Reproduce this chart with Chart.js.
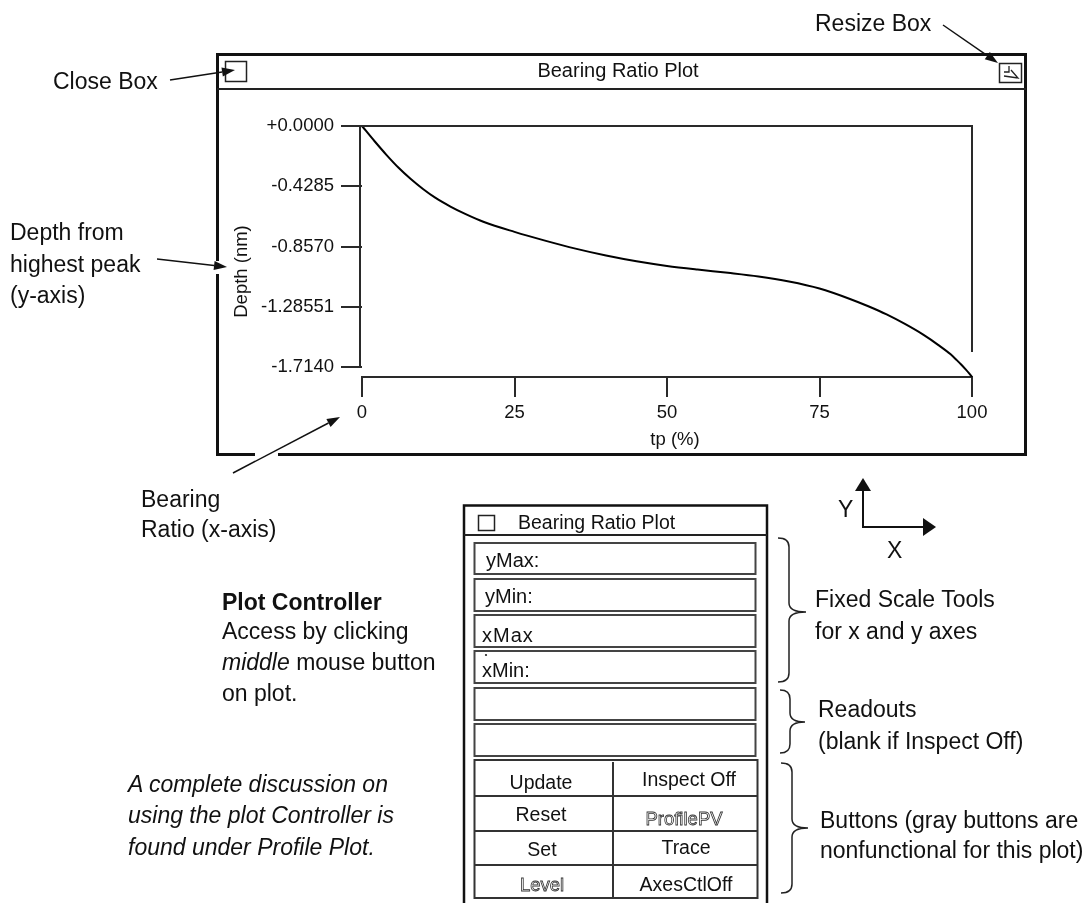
<!DOCTYPE html>
<html><head><meta charset="utf-8">
<script src="https://cdn.jsdelivr.net/npm/chart.js@4.4.1/dist/chart.umd.min.js"></script>
<style>
html,body{margin:0;padding:0;background:#fff;}
#wrap{position:relative;width:1091px;height:903px;overflow:hidden;background:#fff;}
#c{position:absolute;left:0;top:0;}
#ov{position:absolute;left:0;top:0;}
#ov text{font-family:"Liberation Sans",Arial,sans-serif;fill:#111;}
</style></head><body>
<div id="wrap">
<canvas id="c" width="1091" height="903"></canvas>
<svg id="ov" width="1091" height="903" xmlns="http://www.w3.org/2000/svg"></svg>
</div>
<script>
// ---- data ----
const tpPercent = [0, 2, 4, 6, 8, 10, 12, 14.5, 17, 20, 25, 30, 35, 40, 45, 50, 55, 60, 65, 70, 75, 80, 83, 86, 89, 92, 94.5, 96.5, 97.5, 98.3, 99, 99.5, 100];
const depthNm   = [0, -0.105, -0.205, -0.297, -0.377, -0.448, -0.51, -0.573, -0.627, -0.683, -0.753, -0.815, -0.872, -0.921, -0.962, -0.995, -1.021, -1.044, -1.07, -1.106, -1.156, -1.23, -1.282, -1.34, -1.408, -1.484, -1.558, -1.624, -1.665, -1.7, -1.733, -1.758, -1.785];
const xTickValues = [0, 25, 50, 75, 100];
const yTickValues = [0, -0.4285, -0.857, -1.28551, -1.714];
const yTickLabels = ['+0.0000', '-0.4285', '-0.8570', '-1.28551', '-1.7140'];
const yAxisMin = -1.7851, yAxisMax = 0;
const rightFrameEnd = -1.607;
const yTitleShift = 20, xTitleShift = 8;
const FONT = '"Liberation Sans", Arial, sans-serif';

const framePlugin = {
  id: 'frame',
  afterLayout(chart) {
    const {ctx} = chart;
    const sy = chart.scales.y, sx = chart.scales.x;
    if (!sy._shifted) {
      const o = sy.drawTitle.bind(sy);
      sy.drawTitle = function () { ctx.save(); ctx.translate(0, yTitleShift); o(); ctx.restore(); };
      sy._shifted = true;
    }
    if (!sx._shifted) {
      const o = sx.drawTitle.bind(sx);
      sx.drawTitle = function () { ctx.save(); ctx.translate(xTitleShift, 0); o(); ctx.restore(); };
      sx._shifted = true;
    }
  },
  afterDraw(chart) {
    const {ctx, scales: {x, y}} = chart;
    const xl = x.getPixelForValue(0) - 2, xr = x.getPixelForValue(100);
    const yTop = y.getPixelForValue(yTickValues[0]);
    const yBot = y.getPixelForValue(yTickValues[yTickValues.length - 1]);
    const yR = y.getPixelForValue(rightFrameEnd);
    ctx.save();
    ctx.strokeStyle = '#2a2a2a';
    ctx.lineWidth = 2;
    ctx.beginPath();
    ctx.moveTo(xl, yBot); ctx.lineTo(xl, yTop); ctx.lineTo(xr, yTop); ctx.lineTo(xr, yR);
    ctx.stroke();
    ctx.restore();
  }
};

new Chart(document.getElementById('c'), {
  type: 'line',
  data: {
    datasets: [{
      data: tpPercent.map((t, i) => ({x: t, y: depthNm[i]})),
      borderColor: '#000', borderWidth: 2, pointRadius: 0,
      cubicInterpolationMode: 'monotone', fill: false, clip: false
    }]
  },
  options: {
    responsive: false, animation: false, devicePixelRatio: 1,
    layout: {padding: {left: 222, right: 119, top: 126, bottom: 446}},
    plugins: {legend: {display: false}, tooltip: {enabled: false}},
    scales: {
      x: {
        type: 'linear', position: 'bottom', min: 0, max: 100,
        afterBuildTicks: s => { s.ticks = xTickValues.map(v => ({value: v})); },
        afterFit: s => { s.height = 80; },
        grid: {display: true, drawOnChartArea: false, drawTicks: true, tickLength: 20, color: '#2a2a2a', lineWidth: 2},
        border: {display: true, color: '#2a2a2a', width: 2},
        ticks: {font: {family: FONT, size: 18.5}, color: '#111', padding: 5, maxRotation: 0, autoSkip: false},
        title: {display: true, text: 'tp (%)', font: {family: FONT, size: 18.5}, color: '#111', padding: {top: 0, bottom: 6}}
      },
      y: {
        type: 'linear', position: 'left', min: yAxisMin, max: yAxisMax,
        afterBuildTicks: s => { s.ticks = yTickValues.map(v => ({value: v})); },
        afterFit: s => { s.width = 140; },
        grid: {display: true, drawOnChartArea: false, drawTicks: true, tickLength: 21, color: '#2a2a2a', lineWidth: 2},
        border: {display: false},
        ticks: {font: {family: FONT, size: 18.5}, color: '#111', padding: 7, autoSkip: false,
                callback: (v, i) => yTickLabels[i]},
        title: {display: true, text: 'Depth (nm)', font: {family: FONT, size: 18.5}, color: '#111', padding: {top: 9, bottom: 0}}
      }
    }
  },
  plugins: [framePlugin]
});

// ---- decorations (window, annotations, controller panel) ----
const NS = 'http://www.w3.org/2000/svg';
const svg = document.getElementById('ov');
function el(tag, attrs, txt) {
  const e = document.createElementNS(NS, tag);
  for (const k in attrs) e.setAttribute(k, attrs[k]);
  if (txt !== undefined) e.textContent = txt;
  svg.appendChild(e);
  return e;
}
function line(x1, y1, x2, y2, w = 2, c = '#222') { return el('line', {x1, y1, x2, y2, stroke: c, 'stroke-width': w}); }
function rect(x, y, w, h, sw = 2, c = '#222', fill = 'none') { return el('rect', {x, y, width: w, height: h, stroke: c, 'stroke-width': sw, fill}); }
function text(x, y, s, size = 23, extra = {}) { return el('text', Object.assign({x, y, 'font-size': size}, extra), s); }
function arrow(x1, y1, x2, y2, hl = 13, hw = 4.5, w = 1.5) {
  const dx = x2 - x1, dy = y2 - y1, L = Math.hypot(dx, dy), ux = dx / L, uy = dy / L;
  const bx = x2 - ux * hl, by = y2 - uy * hl;
  line(x1, y1, bx, by, w, '#111');
  el('polygon', {points: `${x2},${y2} ${bx - uy * hw},${by + ux * hw} ${bx + uy * hw},${by - ux * hw}`, fill: '#111'});
}
function brace(x0, x1, xt, yT, yM, yB, r = 9) {
  const d = `M${x0},${yT} Q${x1},${yT} ${x1},${yT + r} L${x1},${yM - r} Q${x1},${yM} ${xt},${yM} Q${x1},${yM} ${x1},${yM + r} L${x1},${yB - r} Q${x1},${yB} ${x0},${yB}`;
  el('path', {d, fill: 'none', stroke: '#222', 'stroke-width': 1.5});
}

// window frame
rect(217.5, 54.5, 808, 400, 3, '#111');
line(217, 89, 1026, 89, 2);
text(618, 77, 'Bearing Ratio Plot', 20, {'text-anchor': 'middle'});
rect(225.5, 61.5, 21, 20, 1.5);
rect(999.5, 63.5, 22, 19, 1.5);
el('path', {d: 'M1009,66 L1009,72 L1004,72 M1004,76 L1018,78 L1011,70', fill: 'none', stroke: '#222', 'stroke-width': 1.3});
// gaps where arrows cross the frame
rect(213, 261, 7, 13, 0, 'none', '#fff');
rect(255, 452, 23, 7, 0, 'none', '#fff');

// annotation labels + arrows
text(53, 89, 'Close Box');
arrow(170, 80, 235, 70);
text(815, 31, 'Resize Box');
arrow(943, 25, 998, 63);
text(10, 240, 'Depth from');
text(10, 272, 'highest peak');
text(10, 303, '(y-axis)');
arrow(157, 259, 227, 267);
text(141, 507, 'Bearing');
text(141, 537, 'Ratio (x-axis)');
arrow(233, 473, 340, 417);

text(222, 610, 'Plot Controller', 23, {'font-weight': 'bold'});
text(222, 639, 'Access by clicking');
const t3 = text(222, 670, '');
const it = document.createElementNS(NS, 'tspan'); it.setAttribute('font-style', 'italic'); it.textContent = 'middle'; t3.appendChild(it);
const rest = document.createElementNS(NS, 'tspan'); rest.textContent = ' mouse button'; t3.appendChild(rest);
text(222, 701, 'on plot.');

text(128, 792, 'A complete discussion on', 23, {'font-style': 'italic'});
text(128, 823, 'using the plot Controller is', 23, {'font-style': 'italic'});
text(128, 855, 'found under Profile Plot.', 23, {'font-style': 'italic'});

// XY icon
line(863, 527, 863, 489, 2, '#111');
el('polygon', {points: '863,478 855,491 871,491', fill: '#111'});
line(862, 527, 924, 527, 2, '#111');
el('polygon', {points: '936,527 923,518 923,536', fill: '#111'});
text(838, 517, 'Y', 23);
text(887, 558, 'X', 23);

// controller panel
rect(464, 505.5, 303, 410, 2.5, '#111');
line(464, 535, 767, 535, 2, '#222');
rect(478.5, 515.5, 16, 15, 1.5);
text(518, 529, 'Bearing Ratio Plot', 19.5);
const fields = [[543, 574], [579, 611], [615, 647], [651, 683], [688, 720], [724, 756]];
fields.forEach(([a, b]) => rect(474.5, a, 281, b - a, 2, '#444'));
text(486, 567, 'yMax:', 20);
text(485, 603, 'yMin:', 20);
text(482, 642, 'xMax', 20, {'letter-spacing': '1'});
text(482, 677, 'xMin:', 20);
el('circle', {cx: 486, cy: 655, r: 1.1, fill: '#222'});
// buttons grid
rect(474.5, 760, 283, 138, 2, '#333');
line(613, 762, 613, 898, 2, '#333');
[796, 831, 865].forEach(yy => line(474, yy, 758, yy, 2, '#333'));
const btn = {'text-anchor': 'middle'};
const ghost = {'text-anchor': 'middle', style: 'fill:#fff;stroke:#333;stroke-width:0.8'};
text(541, 789, 'Update', 19.5, btn);
text(689, 786, 'Inspect Off', 19.5, btn);
text(541, 821, 'Reset', 19.5, btn);
text(684, 825, 'ProfilePV', 18.5, ghost);
text(542, 856, 'Set', 19.5, btn);
text(686, 854, 'Trace', 19.5, btn);
text(542, 891, 'Level', 18.5, ghost);
text(686, 891, 'AxesCtlOff', 19.5, btn);

// braces + right labels
brace(778, 789, 806, 538, 612, 682);
brace(780, 790, 805, 690, 722, 753);
brace(781, 792, 808, 763, 828, 893);
text(815, 607, 'Fixed Scale Tools');
text(815, 639, 'for x and y axes');
text(818, 717, 'Readouts');
text(818, 749, '(blank if Inspect Off)');
text(820, 828, 'Buttons (gray buttons are');
text(820, 858, 'nonfunctional for this plot)');
</script>
</body></html>
